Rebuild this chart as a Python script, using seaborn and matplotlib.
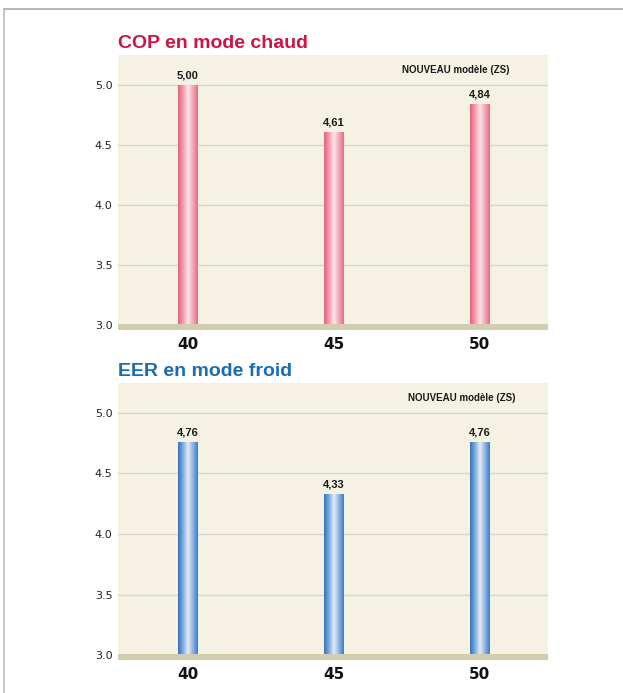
import numpy as np
import pandas as pd
import matplotlib
matplotlib.use("Agg")
import matplotlib.pyplot as plt
from matplotlib.colors import LinearSegmentedColormap
from matplotlib.lines import Line2D
import seaborn as sns

categories = ["40", "45", "50"]
cop_values = [5.00, 4.61, 4.84]
eer_values = [4.76, 4.33, 4.76]
cop_labels = ["5,00", "4,61", "4,84"]
eer_labels = ["4,76", "4,33", "4,76"]
yticks = [3.0, 3.5, 4.0, 4.5, 5.0]

sns.set_theme(style="white")
plt.rcParams['font.family'] = ['Liberation Sans', 'DejaVu Sans']

fig = plt.figure(figsize=(6.23, 6.93), dpi=100)
fig.patch.set_facecolor("white")

pink_cmap = LinearSegmentedColormap.from_list(
    "pink", ["#e8607e", "#f29aac", "#fde6ea", "#f4a6b6", "#e9698a"])
blue_cmap = LinearSegmentedColormap.from_list(
    "blue", ["#2f72c0", "#7fa9dc", "#e3edf9", "#8db4e2", "#3a7cc6"])

YMIN, YMAX = 2.962, 5.245
XMIN, XMAX = -0.479, 2.466


def panel(rect, values, labels, title, title_color, cmap, note_x):
    ax = fig.add_axes(rect)
    df = pd.DataFrame({"cat": categories, "val": values})
    sns.barplot(data=df, x="cat", y="val", ax=ax, width=0.137,
                color="#e8607e", edgecolor="none", zorder=2)
    ax.set_facecolor("#f5f2e3")
    # gradient fill clipped to bars (image limited to visible range)
    grad = np.linspace(0, 1, 256).reshape(1, -1)
    for p in ax.patches:
        x0, y0 = p.get_x(), p.get_y()
        w, h = p.get_width(), p.get_height()
        im = ax.imshow(grad, cmap=cmap, aspect="auto",
                       extent=[x0, x0 + w, max(y0, YMIN), y0 + h],
                       zorder=2.5, interpolation="bicubic")
        im.set_clip_path(p)
    ax.set_xlim(XMIN, XMAX)
    ax.set_ylim(YMIN, YMAX)
    # base band
    ax.axhspan(YMIN, 3.015, color="#d3cdaf", zorder=4, lw=0)
    for t in [3.5, 4.0, 4.5, 5.0]:
        ax.axhline(t, color="#d6d4cc", lw=1.0, zorder=1)
    for i, (v, lab) in enumerate(zip(values, labels)):
        ax.annotate(lab, (i, v), xytext=(0, 3), textcoords="offset points",
                    ha="center", va="bottom", fontsize=8, fontweight="bold",
                    color="#1a1a1a")
    ax.text(note_x, 0.945, "NOUVEAU modèle (ZS)", transform=ax.transAxes,
            ha="center", va="center", fontsize=7, fontweight="bold",
            color="#1a1a1a")
    ax.set_yticks(yticks)
    ax.set_yticklabels([f"{t:.1f}" for t in yticks], fontsize=8,
                       color="#222222", family=['DejaVu Sans'])
    ax.set_xticks(range(len(categories)))
    ax.set_xticklabels(categories, fontsize=11, fontweight="bold",
                       color="#111111", family=['DejaVu Sans'])
    ax.tick_params(axis="y", length=0, pad=4, labelleft=True)
    ax.tick_params(axis="x", length=0, pad=5, labelbottom=True)
    ax.set_xlabel("")
    ax.set_ylabel("")
    for s in ax.spines.values():
        s.set_visible(False)
    ax.text(0.0, 1.012, title, transform=ax.transAxes, ha="left",
            va="bottom", fontsize=14, fontweight="bold", color=title_color)
    return ax


panel([0.1894, 0.5238, 0.690, 0.3968], cop_values, cop_labels,
      "COP en mode chaud", "#cc1446", pink_cmap, 0.786)
panel([0.1894, 0.0476, 0.690, 0.3997], eer_values, eer_labels,
      "EER en mode froid", "#1b6db3", blue_cmap, 0.80)

# page frame lines
fig.add_artist(Line2D([4 / 623, 1.0], [1 - 9 / 693, 1 - 9 / 693],
                      color="#aaaaaa", lw=1.2, transform=fig.transFigure))
fig.add_artist(Line2D([4 / 623, 4 / 623], [1 - 9 / 693, 0.0],
                      color="#bbbbbb", lw=1.2, transform=fig.transFigure))

fig.savefig("out.png", dpi=100, facecolor="white")
